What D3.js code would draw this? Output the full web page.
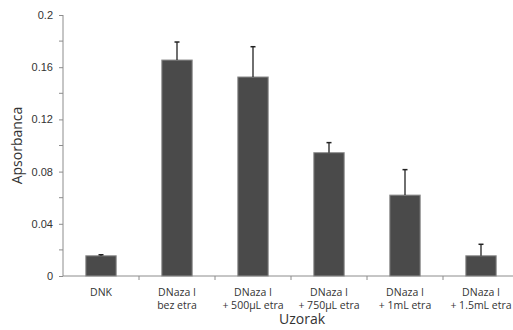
<!DOCTYPE html>
<html lang="en">
<head>
    <meta charset="UTF-8">
    <script src="https://cdn.jsdelivr.net/npm/d3@7"></script>
    <title>Apsorbanca</title>
    <style>
        body {
            margin: 0;
            background: #fff;
            font-family: "Open Sans", "Noto Sans", sans-serif;
            color: #333;
        }
        .axis path, .axis line { stroke: #8c8c8c; }
        .axis text { fill: #333; font-size: 11px; }
    </style>
</head>
<body>
    <svg id="chart" width="513" height="330"></svg>

    <script>
        // data
        const categories = [
            ["DNK"],
            ["DNaza I", "bez etra"],
            ["DNaza I", "+ 500µL etra"],
            ["DNaza I", "+ 750µL etra"],
            ["DNaza I", "+ 1mL etra"],
            ["DNaza I", "+ 1.5mL etra"]
        ];
        const values = [0.0155, 0.1655, 0.1525, 0.0945, 0.062, 0.0155];
        const errors = [0.0008, 0.0138, 0.0232, 0.0077, 0.0195, 0.0088];
        const yTicks = [0, 0.04, 0.08, 0.12, 0.16, 0.2];
        const yMinor = [0.02, 0.06, 0.10, 0.14, 0.18];

        const svg = d3.select("#chart");
        const x0 = 63, x1 = 519, yBottom = 276, yTop = 15;

        const x = d3.scaleBand()
            .domain(d3.range(categories.length))
            .range([x0, x1])
            .paddingInner(0.6)
            .paddingOuter(0.3);

        const y = d3.scaleLinear().domain([0, 0.2]).range([yBottom, yTop]);

        // y axis
        const yAxis = svg.append("g")
            .attr("class", "axis")
            .attr("transform", `translate(${x0},0)`)
            .call(d3.axisLeft(y).tickValues(yTicks).tickSize(4).tickPadding(6)
                .tickFormat(d => d === 0 ? "0" : d3.format("~g")(d)));
        yAxis.select(".domain").attr("d", `M0,${yTop}V${yBottom}`);
        yAxis.selectAll(".minor").data(yMinor).enter().append("line")
            .attr("class", "minor")
            .attr("x1", -4).attr("x2", 0)
            .attr("y1", d => y(d)).attr("y2", d => y(d));

        // x axis with ticks at category boundaries
        const xAxis = svg.append("g").attr("class", "axis");
        xAxis.append("line")
            .attr("x1", x0).attr("x2", x1)
            .attr("y1", yBottom).attr("y2", yBottom);
        const step = x.step();
        xAxis.selectAll(".bnd").data(d3.range(1, categories.length)).enter().append("line")
            .attr("x1", d => x0 + d * step).attr("x2", d => x0 + d * step)
            .attr("y1", yBottom).attr("y2", yBottom + 4);

        // bars
        svg.selectAll("rect.bar").data(values).enter().append("rect")
            .attr("class", "bar")
            .attr("x", (d, i) => x(i))
            .attr("width", x.bandwidth())
            .attr("y", d => y(d))
            .attr("height", d => yBottom - y(d))
            .attr("fill", "#4a4a4a")
            .attr("stroke", "#8f8f8f")
            .attr("stroke-width", 1);

        // error bars (upper only)
        const eg = svg.selectAll("g.err").data(values).enter().append("g").attr("class", "err");
        eg.append("line")
            .attr("x1", (d, i) => x(i) + x.bandwidth() / 2)
            .attr("x2", (d, i) => x(i) + x.bandwidth() / 2)
            .attr("y1", d => y(d))
            .attr("y2", (d, i) => y(d + errors[i]))
            .attr("stroke", "#222").attr("stroke-width", 1.3);
        eg.append("line")
            .attr("x1", (d, i) => x(i) + x.bandwidth() / 2 - 2.5)
            .attr("x2", (d, i) => x(i) + x.bandwidth() / 2 + 2.5)
            .attr("y1", (d, i) => y(d + errors[i]))
            .attr("y2", (d, i) => y(d + errors[i]))
            .attr("stroke", "#222").attr("stroke-width", 1.5);

        // category labels
        const lab = svg.selectAll("text.cat").data(categories).enter().append("text")
            .attr("class", "cat")
            .attr("text-anchor", "middle")
            .attr("font-size", "10.5px")
            .attr("fill", "#333");
        lab.selectAll("tspan").data((d, i) => d.map(t => ({ t, i }))).enter().append("tspan")
            .attr("x", d => x(d.i) + x.bandwidth() / 2)
            .attr("y", (d, j) => 296 + j * 12.5)
            .text(d => d.t);

        // axis titles
        svg.append("text")
            .attr("x", 302).attr("y", 324)
            .attr("text-anchor", "middle")
            .attr("font-size", "14px").attr("fill", "#333")
            .text("Uzorak");
        svg.append("text")
            .attr("transform", `translate(22,${(yTop + yBottom) / 2}) rotate(-90)`)
            .attr("text-anchor", "middle")
            .attr("font-size", "14px").attr("fill", "#333")
            .text("Apsorbanca");
    </script>
</body>
</html>
